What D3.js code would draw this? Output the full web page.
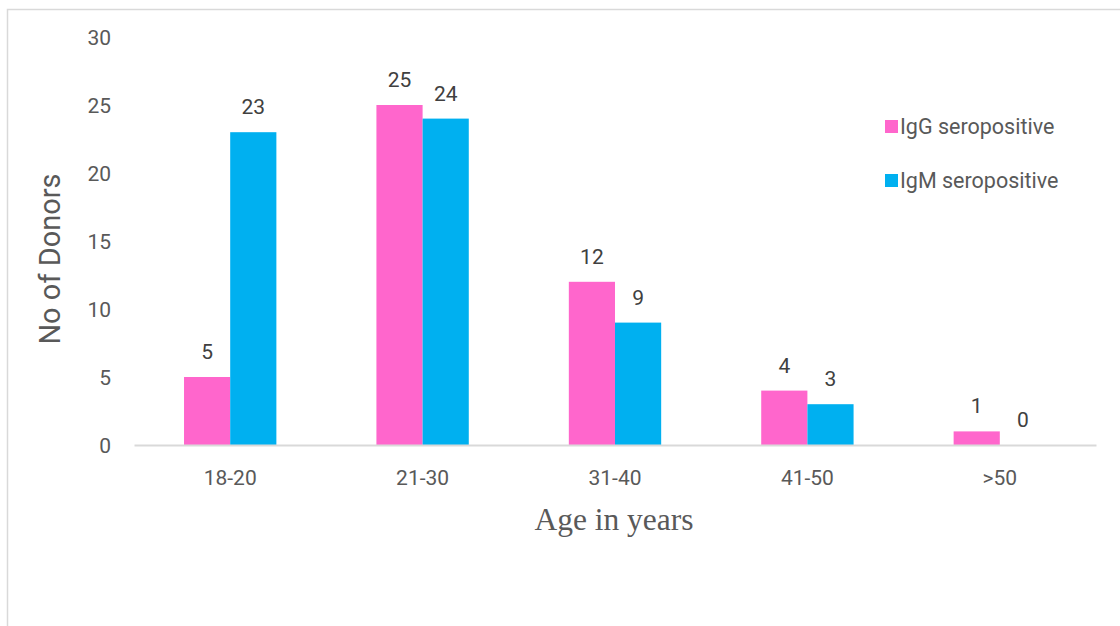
<!DOCTYPE html>
<html>
<head>
<meta charset="utf-8">
<script src="https://cdn.jsdelivr.net/npm/d3@7"></script>
<style>
  html, body { margin: 0; padding: 0; background: #fff; }
  svg { display: block; }
</style>
</head>
<body>
<svg id="chart" width="1120" height="626"></svg>
<script>
// Age groups of donors and seropositive counts per group
const ageGroups = ["18-20", "21-30", "31-40", "41-50", ">50"];
const seriesNames = ["IgG seropositive", "IgM seropositive"];
const igG = [5, 25, 12, 4, 1];
const igM = [23, 24, 9, 3, 0];
const yTicks = [0, 5, 10, 15, 20, 25, 30];
const seriesColors = ["#FF66CC", "#00B0F0"];

const values = [igG, igM];
const rows = ageGroups.map((g, i) => ({ group: g, vals: values.map(v => v[i]) }));

const svg = d3.select("#chart");
const font = "Roboto, 'Liberation Sans', sans-serif";

// outer frame of the chart area
svg.append("rect")
  .attr("x", 7.5).attr("y", 9.5)
  .attr("width", 1130).attr("height", 640)
  .attr("fill", "none").attr("stroke", "#D9D9D9").attr("stroke-width", 1.5);

const x0 = d3.scaleBand().domain(ageGroups).range([134, 1096])
  .paddingInner(0.52).paddingOuter(0.26);
const x1 = d3.scaleBand().domain(d3.range(seriesNames.length)).range([0, x0.bandwidth()]);
const y = d3.scaleLinear().domain([0, 30]).range([445, 37]);

// value axis labels (no axis line)
const yAxis = d3.axisLeft(y).tickValues(yTicks).tickSize(0).tickPadding(0);
const gy = svg.append("g").attr("transform", "translate(111,0)").call(yAxis);
gy.select(".domain").remove();
gy.selectAll("text")
  .attr("font-family", font).attr("font-size", 21).attr("fill", "#595959")
  .attr("dy", "0.35em");

// bars
const groups = svg.append("g").selectAll("g").data(rows).join("g")
  .attr("transform", d => `translate(${x0(d.group)},0)`);

groups.selectAll("rect").data(d => d.vals).join("rect")
  .attr("x", (v, i) => x1(i))
  .attr("y", v => y(v))
  .attr("width", x1.bandwidth())
  .attr("height", v => y(0) - y(v))
  .attr("fill", (v, i) => seriesColors[i]);

// value labels above bars
groups.selectAll("text").data(d => d.vals).join("text")
  .attr("x", (v, i) => x1(i) + x1.bandwidth() / 2)
  .attr("y", v => y(v) - 18)
  .attr("text-anchor", "middle")
  .attr("font-family", font).attr("font-size", 21).attr("fill", "#404040")
  .text(v => v);

// category axis
const xAxis = d3.axisBottom(x0).tickSize(0).tickPadding(0);
const gx = svg.append("g").attr("transform", "translate(0,445)").call(xAxis);
gx.select(".domain").attr("stroke", "#D9D9D9").attr("stroke-width", 2);
gx.selectAll("text")
  .attr("font-family", font).attr("font-size", 21).attr("fill", "#595959")
  .attr("dy", 0).attr("y", 40);

// axis titles
svg.append("text")
  .attr("transform", "translate(60,259) rotate(-90)")
  .attr("text-anchor", "middle")
  .attr("font-family", font).attr("font-size", 29).attr("fill", "#595959")
  .text("No of Donors");

svg.append("text")
  .attr("x", 614).attr("y", 530)
  .attr("text-anchor", "middle")
  .attr("font-family", "'Liberation Serif', 'Times New Roman', serif")
  .attr("font-size", 31.5).attr("fill", "#595959")
  .text("Age in years");

// legend
const legend = svg.append("g").selectAll("g").data(seriesNames).join("g")
  .attr("transform", (d, i) => `translate(885,${120 + i * 54})`);
legend.append("rect").attr("width", 13).attr("height", 13)
  .attr("fill", (d, i) => seriesColors[i]);
legend.append("text")
  .attr("x", 15).attr("y", 14)
  .attr("font-family", font).attr("font-size", 21.5).attr("fill", "#595959")
  .text(d => d);
</script>
</body>
</html>
